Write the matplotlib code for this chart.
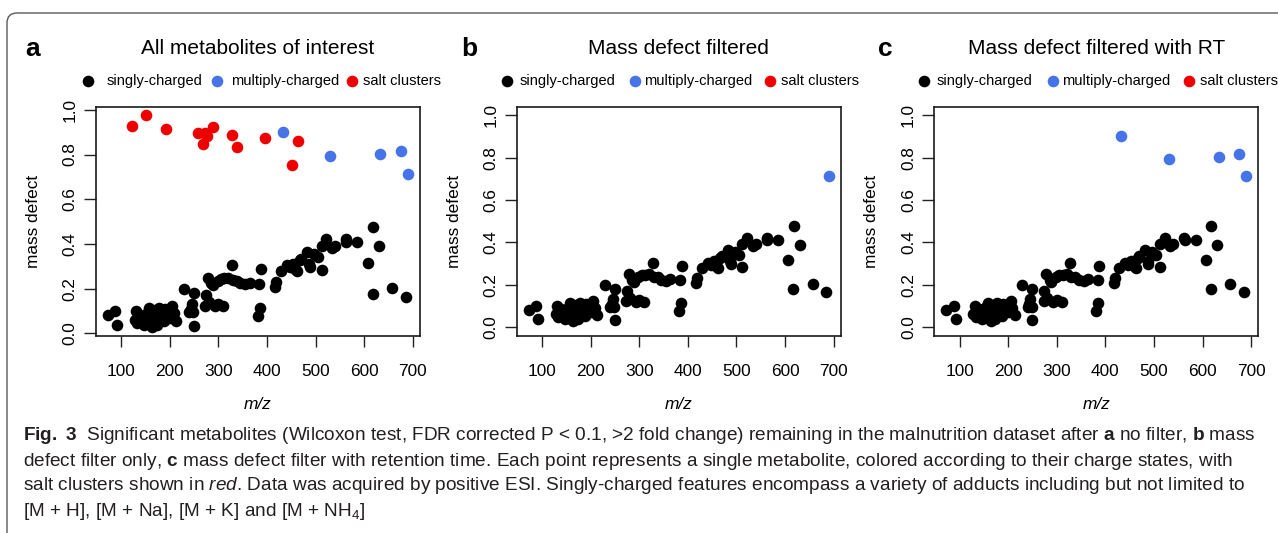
import matplotlib
matplotlib.use("Agg")
import matplotlib.pyplot as plt
from matplotlib import font_manager
from matplotlib.patches import FancyBboxPatch
from matplotlib.transforms import IdentityTransform

# singly-charged features (same in all three panels)
single_mz = [72, 88, 92, 128, 131, 133, 139, 142, 147, 151, 158, 160, 164, 168, 173,
             177, 180, 185, 188, 194, 197, 205, 208, 213, 136, 155, 170, 183, 190, 200,
             229, 240, 245, 249, 250, 248, 243, 274, 273, 278, 280, 285, 288, 293, 300,
             310, 298, 305, 312, 320, 328, 330, 338, 345, 355, 364, 384, 387, 385, 381,
             417, 419, 428, 441, 447, 453, 458, 462, 467, 470, 482, 488, 487, 496, 505,
             512, 512, 522, 534, 540, 562, 563, 586, 607, 618, 630, 617, 657, 685]
single_md = [0.081, 0.099, 0.040, 0.062, 0.099, 0.047, 0.084, 0.069, 0.040, 0.077, 0.116, 0.069, 0.028, 0.084, 0.040,
             0.116, 0.062, 0.099, 0.054, 0.084, 0.106, 0.125, 0.091, 0.057, 0.055, 0.095, 0.105, 0.075, 0.110, 0.070,
             0.197, 0.094, 0.131, 0.180, 0.035, 0.094, 0.110, 0.172, 0.125, 0.249, 0.140, 0.224, 0.215, 0.121, 0.130,
             0.121, 0.235, 0.245, 0.246, 0.250, 0.305, 0.239, 0.235, 0.224, 0.220, 0.227, 0.221, 0.290, 0.116, 0.077,
             0.209, 0.231, 0.280, 0.305, 0.295, 0.312, 0.290, 0.280, 0.327, 0.335, 0.364, 0.297, 0.310, 0.356, 0.342,
             0.283, 0.393, 0.423, 0.381, 0.393, 0.423, 0.410, 0.411, 0.317, 0.477, 0.390, 0.178, 0.205, 0.165]

# multiply-charged
multi_mz = [433, 530, 633, 676, 690]
multi_md = [0.900, 0.794, 0.803, 0.817, 0.711]
multi_keep_b = [False, False, False, False, True]   # left after mass defect filter

# salt clusters
salt_mz = [123, 151, 192, 258, 268, 272, 277, 289, 327, 338, 396, 451, 463]
salt_md = [0.926, 0.976, 0.912, 0.898, 0.847, 0.895, 0.884, 0.923, 0.887, 0.835, 0.875, 0.755, 0.862]

letters = ["a", "b", "c"]
titles = ["All metabolites of interest", "Mass defect filtered", "Mass defect filtered with RT"]
legend_labels = ["singly-charged", "multiply-charged", "salt clusters"]
x_ticks = [100, 200, 300, 400, 500, 600, 700]
y_ticks = [0.0, 0.2, 0.4, 0.6, 0.8, 1.0]

BLACK, BLUE, RED = "#000000", "#4674E8", "#EE0000"
DOT = 70

plt.rcParams["font.family"] = ["Liberation Sans", "DejaVu Sans"]

W, H = 1278, 533
fig = plt.figure(figsize=(W / 100, H / 100), dpi=100)

# rounded frame around the figure
frame = FancyBboxPatch((7, -30), 1400, H - 13 + 30,
                       boxstyle="round,pad=0,rounding_size=10",
                       transform=IdentityTransform(), fill=False,
                       ec="#5a5a5a", lw=1.0)
fig.add_artist(frame)

# axes boxes in pixels (left, right, top, bottom)
boxes = [(95.7, 420.0, 106.7, 335.7),
         (516.7, 840.7, 106.7, 335.7),
         (934.0, 1258.3, 106.7, 335.7)]
letter_x = [25, 461, 878]
leg_offsets = [(-8, 11, 121, 135, 256, 267),
               (-10, 3, 118, 127, 253, 264),
               (-10, 3, 119, 128, 255, 266)]


def r_range(vals):
    lo, hi = min(vals), max(vals)
    pad = 0.04 * (hi - lo)
    return lo - pad, hi + pad


for i in range(3):
    l, r, t, b = boxes[i]
    ax = fig.add_axes([l / W, 1 - b / H, (r - l) / W, (b - t) / H])
    bw, bh = r - l, b - t

    if i == 0:
        md = single_md + multi_md + salt_md
        ylim = r_range(md)
        bm = multi_mz
        bd = multi_md
    elif i == 1:
        ylim = r_range([0, 1])
        bm = [m for m, k in zip(multi_mz, multi_keep_b) if k]
        bd = [d for d, k in zip(multi_md, multi_keep_b) if k]
    else:
        ylim = r_range([0, 1])
        bm = multi_mz
        bd = multi_md

    ax.scatter(single_mz, single_md, s=DOT, color=BLACK, lw=0, zorder=3)
    ax.scatter(bm, bd, s=DOT, color=BLUE, lw=0, zorder=3)
    if i == 0:
        ax.scatter(salt_mz, salt_md, s=DOT, color=RED, lw=0, zorder=3)

    ax.set_xlim(r_range(single_mz + multi_mz + (salt_mz if i == 0 else [])))
    ax.set_ylim(ylim)
    ax.set_xticks(x_ticks)
    ax.set_xticklabels([str(v) for v in x_ticks])
    ax.set_yticks(y_ticks)
    ax.set_yticklabels([f"{v:.1f}" for v in y_ticks], rotation=90, va="center")
    ax.tick_params(axis="x", direction="out", length=8, width=1.0, pad=12.5,
                   labelsize=12.4, color="#222222")
    ax.tick_params(axis="y", direction="out", length=8.5, width=1.0, pad=4.5,
                   labelsize=12.4, color="#222222")
    for sp in ax.spines.values():
        sp.set_linewidth(1.2)
        sp.set_color("#1a1a1a")

    ax.set_ylabel("mass defect", fontsize=12.4)
    ax.yaxis.set_label_coords(-62 / bw, 0.5)
    ax.yaxis.label.set_va("center")
    ax.set_xlabel("m/z", fontsize=12.4, style="italic")
    ax.xaxis.set_label_coords(0.5, -69 / bh)
    ax.xaxis.label.set_va("center")

    # title and panel letter
    ax.text(0.5, 1 + (t - 48) / bh, titles[i], transform=ax.transAxes,
            ha="center", va="center", fontsize=15)
    fig.text(letter_x[i] / W, 1 - 49 / H, letters[i], ha="left", va="center",
             fontsize=19, fontweight="bold")

    # horizontal legend above the plot
    ly = 1 + (t - 81) / bh
    o = leg_offsets[i]
    for (mx, tx), col, lab in zip([(o[0], o[1]), (o[2], o[3]), (o[4], o[5])],
                                  [BLACK, BLUE, RED], legend_labels):
        ax.scatter([mx / bw], [ly], s=DOT, color=col, lw=0,
                   transform=ax.transAxes, clip_on=False)
        ax.text(tx / bw, ly, lab, transform=ax.transAxes, ha="left",
                va="center", fontsize=10.5)

# caption
names = {f.name for f in font_manager.fontManager.ttflist}
cap_font = "Liberation Sans Narrow" if "Liberation Sans Narrow" in names else "Liberation Sans"
cap_size = 13.6 if cap_font.endswith("Narrow") else 13.7
plt.rcParams["mathtext.fontset"] = "custom"
plt.rcParams["mathtext.rm"] = cap_font
plt.rcParams["mathtext.it"] = cap_font + ":italic"
plt.rcParams["mathtext.bf"] = cap_font + ":bold"

caption = [
    r"$\mathbf{Fig.\ 3}$  Significant metabolites (Wilcoxon test, FDR corrected P < 0.1, >2 fold change) "
    r"remaining in the malnutrition dataset after $\mathbf{a}$ no filter, $\mathbf{b}$ mass",
    r"defect filter only, $\mathbf{c}$ mass defect filter with retention time. Each point represents a single "
    r"metabolite, colored according to their charge states, with",
    r"salt clusters shown in $\mathit{red}$. Data was acquired by positive ESI. Singly-charged features "
    r"encompass a variety of adducts including but not limited to",
    r"[M + H], [M + Na], [M + K] and [M + NH$_4$]",
]
for k, line in enumerate(caption):
    fig.text(23 / W, 1 - (436 + 25 * k) / H, line, ha="left", va="center",
             fontsize=cap_size, family=[cap_font, "DejaVu Sans"], color="#231f20")

fig.savefig("out.png", dpi=100)
